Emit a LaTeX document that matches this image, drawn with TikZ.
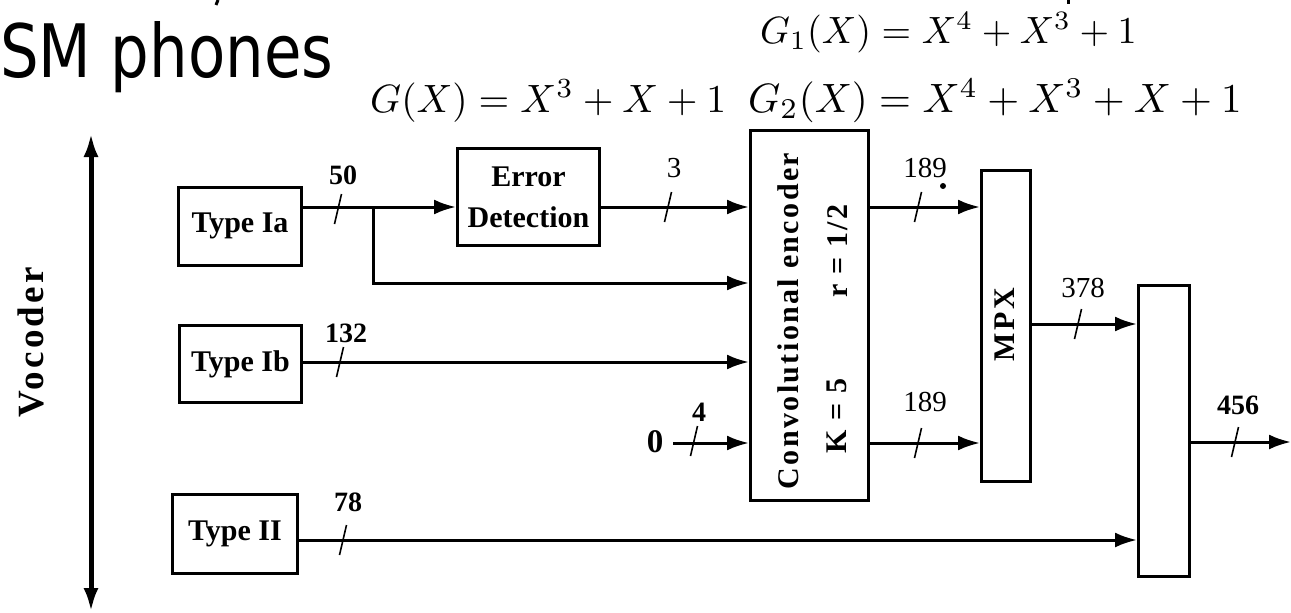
\documentclass[tikz,border=0pt]{standalone}
\usepackage{graphicx}
\usepackage{fontspec}
\usetikzlibrary{arrows.meta,calc}
\newfontfamily\dfont{Liberation Serif}
\newfontfamily\dfontsp[LetterSpace=8]{Liberation Serif}
\newfontfamily\vfont[LetterSpace=9]{Liberation Serif}
\newfontfamily\tfont{DejaVu Sans}
\newcommand{\tk}[2]{\draw[tick] (#1-3.5,#2+15) -- (#1+3.5,#2-15);}
\begin{document}
\begin{tikzpicture}[x=1pt,y=-1pt,
  box/.style={draw,line width=3pt,inner sep=0pt,font=\dfont\bfseries\fontsize{30}{41}\selectfont},
  wire/.style={line width=3pt,-{Latex[length=22pt,width=15pt]}},
  tick/.style={line width=1.6pt},
  num/.style={font=\dfont\bfseries\fontsize{28}{30}\selectfont,inner sep=0pt},
  numr/.style={font=\dfont\fontsize{29}{30}\selectfont,inner sep=0pt},
  rot/.style={rotate=90,inner sep=0pt,font=\dfontsp\bfseries\fontsize{30}{32}\selectfont},
  eq/.style={inner sep=0pt,anchor=west}]
\useasboundingbox (0,0) rectangle (1291,613);
% title and formulas
\node[anchor=base west,inner sep=0pt] (title) at (0,77) {\resizebox{333pt}{56pt}{\tfont SM phones}};
\node[eq] (g1) at (760,33) {\scalebox{3.8}{$G_1(X) = X^4 + X^3 + 1$}};
\node[eq] (g) at (370,101) {\scalebox{3.95}{$G(X) = X^3 + X + 1$}};
\node[eq] (g2) at (748,101) {\scalebox{4.1}{$G_2(X) = X^4 + X^3 + X + 1$}};
\draw[line width=3pt] (218,0) -- (216,5);
\draw[line width=3pt] (1068,0) -- (1068,4);
% vocoder
\coordinate (vt) at (91,133);
\coordinate (vb) at (91,612);
\draw[line width=5pt,{Latex[length=24pt,width=15pt]}-{Latex[length=24pt,width=15pt]}] (vt) -- (vb);
\node[rot,font=\vfont\bfseries\fontsize{37}{38}\selectfont] (voc) at (31,342) {Vocoder};
% boxes
\node[box,minimum width=123pt,minimum height=78pt] (tIa) at (240,226) {Type Ia};
\node[box,minimum width=122pt,minimum height=77pt] (tIb) at (240.5,364) {Type Ib};
\node[box,minimum width=125pt,minimum height=79pt] (tII) at (235,534) {Type II};
\node[box,minimum width=142pt,minimum height=97pt,align=center] (ED) at (528.5,197) {Error\\Detection};
\node[box,minimum width=118pt,minimum height=370pt] (conv) at (809.5,315.5) {};
\node[box,minimum width=49pt,minimum height=311pt] (mpx) at (1006,326) {};
\node[box,minimum width=51pt,minimum height=291pt] (fin) at (1164,431) {};
\node[rot] (convt) at (788,321) {Convolutional encoder};
\node[rot] (kt) at (837,416) {K = 5};
\node[rot] (rt) at (838,251) {r = 1/2};
\node[rot,font=\vfont\bfseries\fontsize{30}{32}\selectfont] (mpxt) at (1005,325) {MPX};
% wires
\coordinate (j) at (373,207);
\draw[wire] (tIa.east |- j) -- (ED.west |- j);
\draw[wire] (j) |- (conv.west |- 0,283);
\draw[wire] (ED.east |- j) -- (conv.west |- j);
\draw[wire] (tIb.east |- 0,362) -- (conv.west |- 0,362);
\node[num,font=\dfont\bfseries\fontsize{33}{34}\selectfont] (zero) at (655,442) {0};
\draw[wire] ($(zero.east)+(10,1)$) -- (conv.west |- 0,443);
\draw[wire] (tII.east |- 0,540) -- (fin.west |- 0,540);
\draw[wire] (conv.east |- 0,207) -- (mpx.west |- 0,207);
\draw[wire] (conv.east |- 0,443) -- (mpx.west |- 0,443);
\draw[wire] (mpx.east |- 0,324) -- (fin.west |- 0,324);
\coordinate (out) at (1291,442);
\draw[wire] (fin.east |- out) -- (out);
% ticks
\tk{338}{209}
\tk{668}{207}
\tk{340}{362}
\tk{694}{441}
\tk{343}{540}
\tk{918}{207}
\tk{918}{443}
\tk{1078}{324}
\tk{1235}{442}
% labels
\node[num] (l50) at (343,175) {50};
\node[numr] (l3) at (674,168) {3};
\node[num] (l132) at (346,333) {132};
\node[num] (l4) at (699,412) {4};
\node[num] (l78) at (348,502) {78};
\node[numr] (l189a) at (925,168) {189};
\node[numr] (l189b) at (925,402) {189};
\node[numr] (l378) at (1083,288) {378};
\node[num] (l456) at (1238,405) {456};
\fill (943,186) circle (3pt);
\end{tikzpicture}
\end{document}
